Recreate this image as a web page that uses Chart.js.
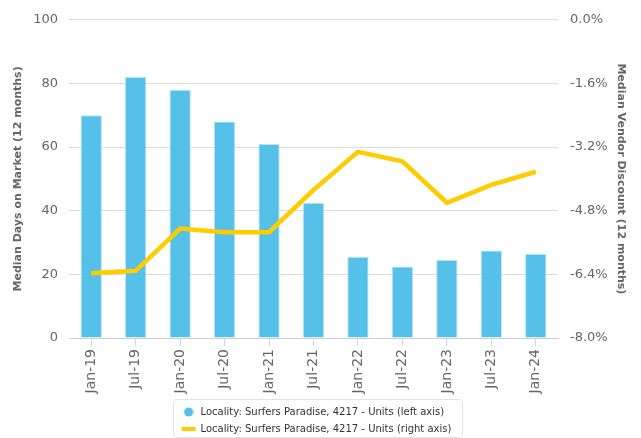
<!DOCTYPE html>
<html>
<head>
<meta charset="utf-8">
<script src="https://cdn.jsdelivr.net/npm/chart.js@4.4.1/dist/chart.umd.min.js"></script>
<style>
  html, body { margin: 0; padding: 0; background: #fff; }
  #wrap { width: 641px; height: 438px; position: relative; }
</style>
</head>
<body>
<div id="wrap"><canvas id="chart"></canvas></div>
<script>
// data
const labels = ["Jan-19", "Jul-19", "Jan-20", "Jul-20", "Jan-21", "Jul-21", "Jan-22", "Jul-22", "Jan-23", "Jul-23", "Jan-24"];
const daysOnMarket = [70, 82, 78, 68, 61, 42.5, 25.5, 22.5, 24.5, 27.5, 26.5];
const vendorDiscount = [-6.37, -6.31, -5.25, -5.34, -5.34, -4.28, -3.32, -3.56, -4.6, -4.15, -3.82];

const font = "'DejaVu Sans', sans-serif";
const barColor = "#55c1e8";
const lineColor = "#ffcc00";

// little canvases used as legend markers
function marker(w, h, draw) {
  const c = document.createElement("canvas");
  c.width = w;
  c.height = h;
  draw(c.getContext("2d"));
  return c;
}
const dotMarker = marker(10, 10, (ctx) => {
  ctx.fillStyle = barColor;
  ctx.beginPath();
  ctx.arc(5, 5, 4.6, 0, Math.PI * 2);
  ctx.fill();
});
const lineMarker = marker(16, 10, (ctx) => {
  ctx.fillStyle = lineColor;
  ctx.fillRect(1, 3, 14, 4);
});

// legend rows start at the same x (left aligned inside a centred block),
// and a light frame is drawn round them
const legendFrame = {
  id: "legendFrame",
  afterLayout(chart) {
    const lg = chart.legend;
    if (!lg || !lg.lineWidths || !lg.legendHitBoxes) return;
    const shift = 3;
    const widest = Math.max(...lg.lineWidths);
    lg.legendHitBoxes.forEach((b) => {
      b.left += shift - (widest - lg.lineWidths[b.row]) / 2;
    });
    lg.lineWidths = lg.lineWidths.map(() => widest);
    lg.left += shift;
    lg.right += shift;
  },
  afterDraw(chart) {
    const boxes = chart.legend && chart.legend.legendHitBoxes;
    if (!boxes || !boxes.length) return;
    const left = Math.min(...boxes.map((b) => b.left)) - 9;
    const right = Math.max(...boxes.map((b) => b.left + b.width)) + 10;
    const top = Math.min(...boxes.map((b) => b.top)) - 8;
    const bottom = Math.max(...boxes.map((b) => b.top + b.height)) + 3;
    const ctx = chart.ctx;
    ctx.save();
    ctx.strokeStyle = "#e3e3e3";
    ctx.lineWidth = 1;
    ctx.beginPath();
    ctx.roundRect(Math.round(left) + 0.5, Math.round(top) + 0.5, Math.round(right - left), Math.round(bottom - top), 3);
    ctx.stroke();
    ctx.restore();
  },
};

new Chart(document.getElementById("chart"), {
  data: {
    labels,
    datasets: [
      {
        type: "bar",
        label: "Locality: Surfers Paradise, 4217 - Units (left axis)",
        data: daysOnMarket,
        yAxisID: "y",
        backgroundColor: barColor,
        borderColor: "#b9e4f5",
        borderWidth: 1,
        barPercentage: 0.96,
        categoryPercentage: 0.5,
        pointStyle: dotMarker,
        order: 1,
      },
      {
        type: "line",
        label: "Locality: Surfers Paradise, 4217 - Units (right axis)",
        data: vendorDiscount,
        yAxisID: "y1",
        borderColor: lineColor,
        backgroundColor: lineColor,
        borderWidth: 4.5,
        pointRadius: 0,
        tension: 0,
        pointStyle: lineMarker,
        order: 0,
      },
    ],
  },
  options: {
    responsive: true,
    maintainAspectRatio: false,
    animation: false,
    layout: { padding: { left: 12, right: 14, top: 14, bottom: -6 } },
    plugins: {
      tooltip: { enabled: false },
      legend: {
        position: "bottom",
        fullSize: false,
        labels: {
          usePointStyle: true,
          pointStyleWidth: 14,
          boxHeight: 10,
          padding: 7,
          color: "#333",
          font: { family: font, size: 10 },
          sort: (a, b) => a.datasetIndex - b.datasetIndex,
        },
      },
    },
    scales: {
      x: {
        offset: true,
        afterFit: (scale) => { scale.height = 62; },
        grid: { offset: false, drawOnChartArea: false, drawTicks: true, tickLength: 8, color: "#ccd6eb" },
        border: { display: true, color: "#cfcfcf" },
        ticks: {
          minRotation: 90,
          maxRotation: 90,
          padding: 3,
          color: "#666",
          font: { family: font, size: 14 },
        },
      },
      y: {
        position: "left",
        min: 0,
        max: 100,
        afterFit: (scale) => { scale.width = 57; },
        ticks: { stepSize: 20, padding: 11, color: "#666", font: { family: font, size: 13 } },
        grid: { color: "#dcdcdc", drawTicks: false },
        border: { display: false },
        title: {
          display: true,
          text: "Median Days on Market (12 months)",
          color: "#666",
          font: { family: font, size: 11, weight: "bold" },
          padding: 0,
        },
      },
      y1: {
        position: "right",
        min: -8,
        max: 0,
        afterFit: (scale) => { scale.width = 69; },
        ticks: {
          stepSize: 1.6,
          padding: 12,
          color: "#666",
          font: { family: font, size: 13 },
          callback: (v) => (Math.abs(v) < 1e-9 ? 0 : v).toFixed(1) + "%",
        },
        grid: { drawOnChartArea: false, drawTicks: false },
        border: { display: false },
        title: {
          display: true,
          text: "Median Vendor Discount (12 months)",
          color: "#666",
          font: { family: font, size: 11, weight: "bold" },
          padding: 0,
        },
      },
    },
  },
  plugins: [legendFrame],
});
</script>
</body>
</html>
